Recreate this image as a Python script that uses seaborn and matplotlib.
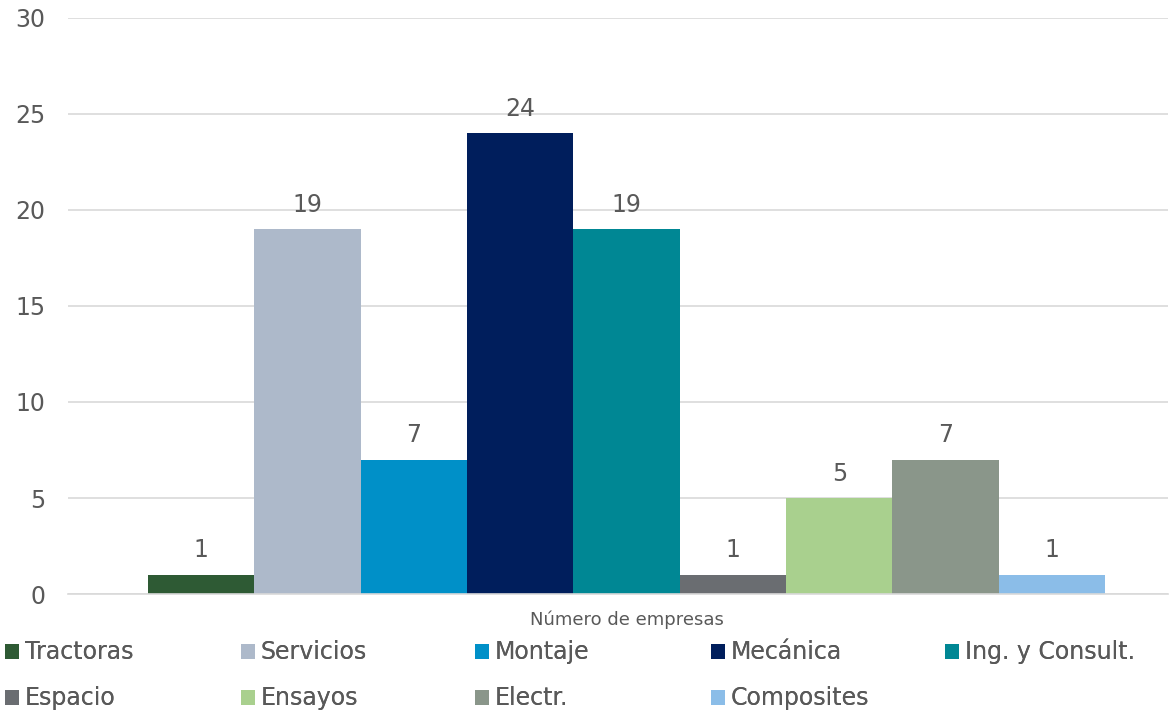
import matplotlib
matplotlib.use("Agg")
import matplotlib.pyplot as plt
import pandas as pd
import seaborn as sns

# datos
sectores = ["Tractoras", "Servicios", "Montaje", "Mecánica", "Ing. y Consult.",
            "Espacio", "Ensayos", "Electr.", "Composites"]
empresas = [1, 19, 7, 24, 19, 1, 5, 7, 1]
colores = ["#2E5A34", "#ADB9CA", "#0090C8", "#001E5C", "#008794",
           "#6A6D71", "#A9D08E", "#8A968A", "#8BBDE8"]
grupo = "Número de empresas"

df = pd.DataFrame({"grupo": [grupo] * len(sectores), "sector": sectores, "n": empresas})

sns.set_style("white")
plt.rcParams["font.family"] = ["DejaVu Sans"]
gris = "#595959"

fig, ax = plt.subplots(figsize=(11.69, 7.14), dpi=100)
sns.barplot(data=df, x="grupo", y="n", hue="sector", hue_order=sectores,
            palette=colores, width=0.87, saturation=1, linewidth=0,
            ax=ax, legend=True)

for cont in ax.containers:
    ax.bar_label(cont, padding=9, fontsize=17, color=gris)

ax.set_xlim(-0.508, 0.492)
ax.set_ylim(0, 30)
ax.set_yticks(range(0, 31, 5))
ax.yaxis.grid(True, color="#D9D9D9", linewidth=1.2)
ax.set_axisbelow(True)
for s in ["top", "right", "left"]:
    ax.spines[s].set_visible(False)
ax.spines["bottom"].set_color("#D9D9D9")
ax.spines["bottom"].set_linewidth(1.2)
ax.tick_params(axis="y", length=0, labelsize=17, labelcolor=gris, pad=16)
ax.tick_params(axis="x", length=0, labelsize=13, labelcolor=gris, pad=12)
ax.set_xlabel("")
ax.set_ylabel("")

# leyenda: una columna fija por cada par de entradas (como en Excel)
handles, labels = ax.get_legend_handles_labels()
ax.get_legend().remove()
col_x = [0.004, 0.206, 0.406, 0.608, 0.808]
for c, x0 in enumerate(col_x):
    idx = [i for i in (c, c + 5) if i < len(handles)]
    leg = fig.legend([handles[i] for i in idx], [labels[i] for i in idx],
                     loc="upper left", bbox_to_anchor=(x0, 0.103),
                     frameon=False, fontsize=17, labelcolor=gris,
                     handlelength=0.6, handleheight=0.6, handletextpad=0.25,
                     labelspacing=0.93, borderaxespad=0, borderpad=0)
    fig.add_artist(leg)

fig.subplots_adjust(left=0.058, right=0.999, top=0.975, bottom=0.168)
fig.savefig("out.png", dpi=100)
